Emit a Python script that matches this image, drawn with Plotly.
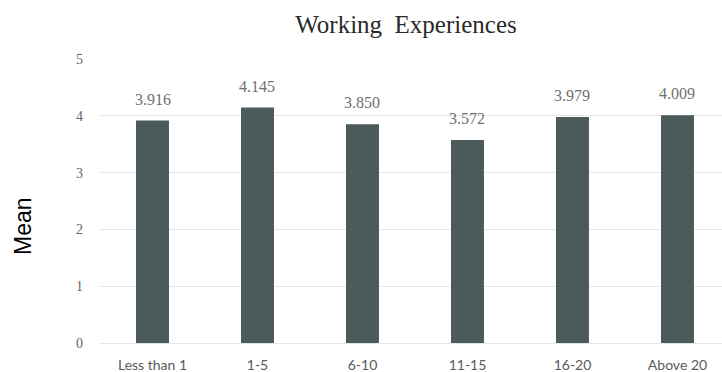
import plotly.graph_objects as go

categories = ["Less than 1", "1-5", "6-10", "11-15", "16-20", "Above 20"]
means = [3.916, 4.145, 3.850, 3.572, 3.979, 4.009]
labels = ["3.916", "4.145", "3.850", "3.572", "3.979", "4.009"]
y_ticks = [0, 1, 2, 3, 4, 5]

fig = go.Figure()
fig.add_trace(go.Bar(
    x=categories,
    y=means,
    marker=dict(color="#4b5a5a", line=dict(width=0)),
    width=0.314,
))

annotations = [
    dict(
        x=c, y=v, text=t, xref="x", yref="y",
        xanchor="center", yanchor="bottom", yshift=11,
        showarrow=False,
        font=dict(family="Liberation Serif", size=16, color="#707070"),
    )
    for c, v, t in zip(categories, means, labels)
]
annotations.append(dict(
    text="Mean",
    xref="paper", yref="paper",
    x=(23 - 100) / 622, y=(343 - 226) / 284,
    xanchor="center", yanchor="middle",
    textangle=-90,
    showarrow=False,
    font=dict(family="Liberation Sans", size=23, color="black"),
))

fig.update_layout(
    width=722, height=372,
    margin=dict(l=100, r=0, t=59, b=29),
    paper_bgcolor="white",
    plot_bgcolor="white",
    showlegend=False,
    title=dict(
        text="Working  Experiences",
        x=406 / 722, xanchor="center",
        y=1 - 24 / 372, yanchor="middle",
        font=dict(family="Liberation Serif", size=25, color="#2a2a2a"),
    ),
    xaxis=dict(
        range=[-0.5, 5.424],
        showgrid=False,
        showline=False,
        ticks="",
        ticklabelstandoff=12,
        tickfont=dict(family="Lato", size=14, color="#5a5a5a"),
    ),
    yaxis=dict(
        range=[0, 5],
        tickvals=y_ticks,
        showgrid=True,
        gridcolor="#e6e6e6",
        gridwidth=1,
        zeroline=True,
        zerolinecolor="#e6e6e6",
        zerolinewidth=1,
        showline=False,
        ticks="",
        ticklabelstandoff=16,
        tickfont=dict(family="Liberation Serif", size=14, color="#666666"),
    ),
    annotations=annotations,
)

fig.write_html("out.html")
